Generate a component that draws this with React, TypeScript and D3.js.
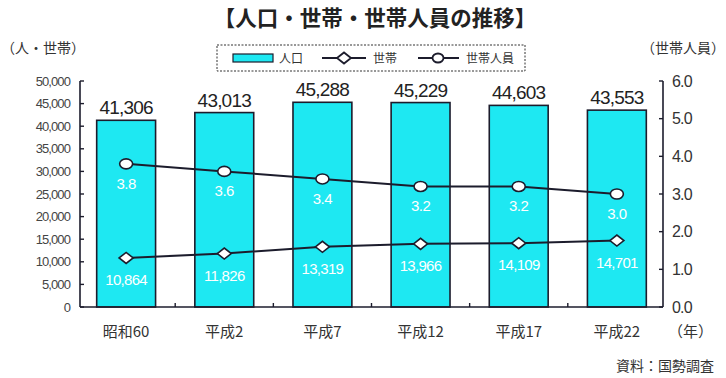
import React from "react";
import * as d3 from "d3";

const categories = ["昭和60", "平成2", "平成7", "平成12", "平成17", "平成22"];
const population = [41306, 43013, 45288, 45229, 44603, 43553];
const households = [10864, 11826, 13319, 13966, 14109, 14701];
const members = [3.8, 3.6, 3.4, 3.2, 3.2, 3.0];
const leftTicks = [0, 5000, 10000, 15000, 20000, 25000, 30000, 35000, 40000, 45000, 50000];
const rightTicks = [0, 1, 2, 3, 4, 5, 6];

const W = 726, H = 378;
const L = 80, R = 663, T = 81, B = 307;
const CJK = "'Noto Sans CJK JP', sans-serif";
const LAT = "'Liberation Sans', Arial, sans-serif";
const CYAN = "#1ee8f2";
const DARK = "#1c1c2c";

export default function App() {
  const x = d3.scaleBand<string>().domain(categories).range([L, R]).paddingInner(0.4).paddingOuter(0.17);
  const yL = d3.scaleLinear().domain([0, 50000]).range([B, T]);
  const yR = d3.scaleLinear().domain([0, 6]).range([B, T]);
  const fmt = d3.format(",");
  const cx = (c: string) => (x(c) as number) + x.bandwidth() / 2;
  const hhLine = d3.line<number>().x((_, i) => cx(categories[i])).y((d) => yL(d));
  const mLine = d3.line<number>().x((_, i) => cx(categories[i])).y((d) => yR(d));
  const step = x.step();
  const boundaries = categories.slice(1).map((c) => (x(c) as number) - (step - x.bandwidth()) / 2);

  const diamond = (px: number, py: number) =>
    `M${px - 7},${py} L${px},${py - 5.5} L${px + 7},${py} L${px},${py + 5.5} Z`;

  return (
    <svg width={W} height={H} style={{ position: "absolute", left: 0, top: 0, background: "#fff" }}>
      <text x={375} y={26} textAnchor="middle" fontFamily={CJK} fontWeight="bold" fontSize={21.5} fill="#222">
        【人口・世帯・世帯人員の推移】
      </text>
      <text x={1} y={53} fontFamily={CJK} fontSize={14} fill="#333">（人・世帯）</text>
      <text x={725} y={53} textAnchor="end" fontFamily={CJK} fontSize={14} fill="#333">（世帯人員）</text>

      {/* legend */}
      <rect x={217} y={45} width={308} height={26} fill="#fff" stroke="#333" strokeWidth={1} strokeDasharray="2,1.5" />
      <rect x={233} y={54} width={40} height={8} fill={CYAN} stroke={DARK} strokeWidth={1.2} />
      <text x={279} y={63} fontFamily={CJK} fontSize={12} fill="#333">人口</text>
      <line x1={322} x2={366} y1={58} y2={58} stroke={DARK} strokeWidth={2.2} />
      <path d={diamond(344, 58)} fill="#fff" stroke={DARK} strokeWidth={1.8} />
      <text x={373} y={63} fontFamily={CJK} fontSize={12} fill="#333">世帯</text>
      <line x1={418} x2={459} y1={58} y2={58} stroke={DARK} strokeWidth={2.2} />
      <ellipse cx={438} cy={58} rx={5.5} ry={4.5} fill="#fff" stroke={DARK} strokeWidth={1.8} />
      <text x={466} y={63} fontFamily={CJK} fontSize={12} fill="#333">世帯人員</text>

      {/* bars */}
      {categories.map((c, i) => (
        <g key={c}>
          <rect x={x(c)} y={yL(population[i])} width={x.bandwidth()} height={B - yL(population[i])}
            fill={CYAN} stroke={DARK} strokeWidth={1.6} />
          <text x={cx(c)} y={yL(population[i]) - 6} textAnchor="middle" fontFamily={LAT} fontSize={19}
            fill="#222" letterSpacing={-0.8}>{fmt(population[i])}</text>
        </g>
      ))}

      {/* axes */}
      <line x1={L} x2={L} y1={T} y2={B} stroke={DARK} strokeWidth={1.6} />
      <line x1={R} x2={R} y1={T} y2={B} stroke={DARK} strokeWidth={1.6} />
      <line x1={L} x2={R} y1={B} y2={B} stroke={DARK} strokeWidth={1.6} />
      {leftTicks.map((t) => (
        <g key={t}>
          <line x1={L} x2={L + 4} y1={yL(t)} y2={yL(t)} stroke={DARK} strokeWidth={1.4} />
          <text x={L - 10} y={yL(t) + 4.5} textAnchor="end" fontFamily={LAT} fontSize={13} fill="#444"
            letterSpacing={-0.9}>{t === 0 ? "0" : fmt(t)}</text>
        </g>
      ))}
      {rightTicks.map((t) => (
        <g key={t}>
          <line x1={R - 4} x2={R} y1={yR(t)} y2={yR(t)} stroke={DARK} strokeWidth={1.4} />
          <text x={R + 9} y={yR(t) + 5.5} fontFamily={LAT} fontSize={16} fill="#333"
            letterSpacing={-0.8}>{d3.format(".1f")(t)}</text>
        </g>
      ))}
      {boundaries.map((b, i) => (
        <line key={i} x1={b} x2={b} y1={B} y2={B - 4} stroke={DARK} strokeWidth={1.4} />
      ))}
      {categories.map((c) => (
        <text key={c} x={cx(c)} y={337} textAnchor="middle" fontFamily={CJK} fontSize={15} fill="#333">{c}</text>
      ))}
      <text x={668} y={337} fontFamily={CJK} fontSize={15} fill="#333">（年）</text>
      <text x={714} y={371} textAnchor="end" fontFamily={CJK} fontSize={14} fill="#333">資料：国勢調査</text>

      {/* lines */}
      <path d={hhLine(households) || ""} fill="none" stroke={DARK} strokeWidth={2} />
      <path d={mLine(members) || ""} fill="none" stroke={DARK} strokeWidth={2} />
      {categories.map((c, i) => (
        <g key={c}>
          <path d={diamond(cx(c), yL(households[i]))} fill="#fff" stroke={DARK} strokeWidth={1.6} />
          <ellipse cx={cx(c)} cy={yR(members[i])} rx={6.5} ry={5} fill="#fff" stroke={DARK} strokeWidth={1.6} />
          <text x={cx(c)} y={yR(members[i]) + 25} textAnchor="middle" fontFamily={LAT} fontSize={15}
            fill="#fff" letterSpacing={-0.5}>{d3.format(".1f")(members[i])}</text>
          <text x={cx(c)} y={yL(households[i]) + 27} textAnchor="middle" fontFamily={LAT} fontSize={15}
            fill="#fff" letterSpacing={-0.7}>{fmt(households[i])}</text>
        </g>
      ))}
    </svg>
  );
}
